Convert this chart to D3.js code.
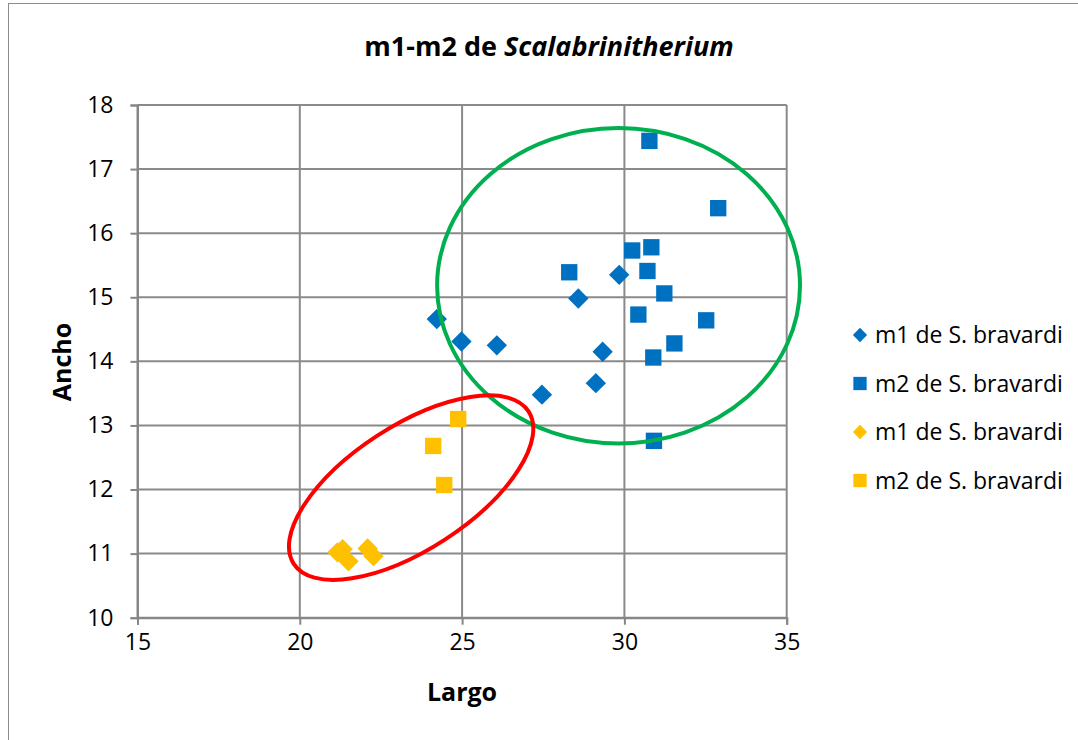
<!DOCTYPE html>
<html>
<head>
<meta charset="utf-8">
<script src="https://cdn.jsdelivr.net/npm/d3@7"></script>
<style>
  body { margin: 0; background: #fff; }
  svg { font-family: "Open Sans", sans-serif; }
</style>
</head>
<body>
<div id="chart"></div>
<script>
// data: [largo, ancho]
const m1Blue = [[24.22, 14.66], [24.98, 14.31], [26.07, 14.25], [27.46, 13.48],
  [28.58, 14.98], [29.84, 15.35], [29.33, 14.15], [29.12, 13.66]];
const m2Blue = [[30.77, 17.44], [32.89, 16.39], [30.24, 15.73], [30.83, 15.78],
  [28.30, 15.39], [30.71, 15.41], [31.23, 15.06], [30.43, 14.73], [32.52, 14.64],
  [31.54, 14.28], [30.89, 14.06], [30.91, 12.76]];
const m1Yellow = [[21.16, 11.02], [21.32, 11.07], [21.50, 10.88], [22.09, 11.08], [22.27, 10.96]];
const m2Yellow = [[24.88, 13.10], [24.11, 12.68], [24.45, 12.07]];
const xTicks = [15, 20, 25, 30, 35];
const yTicks = [10, 11, 12, 13, 14, 15, 16, 17, 18];
const legendLabels = ["m1 de S. bravardi", "m2 de S. bravardi", "m1 de S. bravardi", "m2 de S. bravardi"];
// hand-drawn ellipses in data units: center x, center y, radius x, radius y
const greenOval = [29.82, 15.18, 5.59, 2.46];
const redOval = [23.43, 12.03];

const width = 1078, height = 740;
const svg = d3.select("#chart").append("svg")
  .attr("width", width)
  .attr("height", height);

// chart frame
svg.append("rect")
  .attr("x", 8.5).attr("y", 3.5)
  .attr("width", 1100).attr("height", 760)
  .attr("fill", "none").attr("stroke", "#8c8c8c").attr("stroke-width", 1);

const x = d3.scaleLinear().domain([15, 35]).range([137.5, 786.7]);
const y = d3.scaleLinear().domain([10, 18]).range([617.7, 105]);

const grid = svg.append("g");
grid.selectAll("line.v").data(xTicks).join("line")
  .attr("x1", d => x(d)).attr("x2", d => x(d))
  .attr("y1", y(18)).attr("y2", y(10))
  .attr("stroke", "#8a8a8a").attr("stroke-width", 2);
grid.selectAll("line.h").data(yTicks).join("line")
  .attr("x1", x(15)).attr("x2", x(35))
  .attr("y1", d => y(d)).attr("y2", d => y(d))
  .attr("stroke", "#8a8a8a").attr("stroke-width", 2);

const xAxis = svg.append("g")
  .attr("transform", `translate(0,${y(10)})`)
  .call(d3.axisBottom(x).tickValues(xTicks).tickSize(7).tickPadding(9));
const yAxis = svg.append("g")
  .attr("transform", `translate(${x(15)},0)`)
  .call(d3.axisLeft(y).tickValues(yTicks).tickSize(7).tickPadding(17));
[xAxis, yAxis].forEach(a => {
  a.select(".domain").attr("stroke", "#868686").attr("stroke-width", 2);
  a.selectAll(".tick line").attr("stroke", "#868686").attr("stroke-width", 2);
  a.selectAll("text").attr("font-size", 23).attr("fill", "#000")
    .attr("font-family", "'Open Sans', sans-serif");
});

// titles
const title = svg.append("text")
  .attr("x", 549).attr("y", 56)
  .attr("text-anchor", "middle")
  .attr("font-size", 27).attr("font-weight", "bold");
title.append("tspan").text("m1-m2 de ");
title.append("tspan").attr("font-style", "italic").text("Scalabrinitherium");

svg.append("text")
  .attr("x", 462).attr("y", 701)
  .attr("text-anchor", "middle")
  .attr("font-size", 25).attr("font-weight", "bold")
  .text("Largo");
svg.append("text")
  .attr("transform", "translate(71,362) rotate(-90)")
  .attr("text-anchor", "middle")
  .attr("font-size", 25).attr("font-weight", "bold")
  .text("Ancho");

// markers
const diamond = d3.symbol().type(d3.symbolDiamond2).size(264);
const square = d3.symbol().type(d3.symbolSquare2).size(340);
function drawSeries(data, sym, color) {
  svg.append("g").selectAll("path").data(data).join("path")
    .attr("d", sym)
    .attr("transform", d => `translate(${x(d[0])},${y(d[1])})`)
    .attr("fill", color);
}
drawSeries(m1Blue, diamond, "#0070c0");
drawSeries(m2Blue, square, "#0070c0");
drawSeries(m1Yellow, diamond, "#ffc000");
drawSeries(m2Yellow, square, "#ffc000");

// ovals
svg.append("ellipse")
  .attr("cx", x(greenOval[0])).attr("cy", y(greenOval[1]))
  .attr("rx", x(greenOval[0] + greenOval[2]) - x(greenOval[0]))
  .attr("ry", y(greenOval[1]) - y(greenOval[1] + greenOval[3]))
  .attr("fill", "none").attr("stroke", "#00b050").attr("stroke-width", 4);
svg.append("ellipse")
  .attr("transform", `translate(${x(redOval[0])},${y(redOval[1])}) rotate(-33)`)
  .attr("rx", 140).attr("ry", 62)
  .attr("fill", "none").attr("stroke", "#ff0000").attr("stroke-width", 4);

// legend
const legendShapes = [d3.symbolDiamond2, d3.symbolSquare2, d3.symbolDiamond2, d3.symbolSquare2];
const legendColors = ["#0070c0", "#0070c0", "#ffc000", "#ffc000"];
const legend = svg.append("g").attr("transform", "translate(860,335)");
const item = legend.selectAll("g").data(legendLabels).join("g")
  .attr("transform", (d, i) => `translate(0,${i * 48.5})`);
item.append("path")
  .attr("d", (d, i) => d3.symbol().type(legendShapes[i]).size(i % 2 ? 225 : 130)())
  .attr("fill", (d, i) => legendColors[i]);
item.append("text")
  .attr("x", 15).attr("dy", "0.35em")
  .attr("font-size", 23)
  .text(d => d);
</script>
</body>
</html>
